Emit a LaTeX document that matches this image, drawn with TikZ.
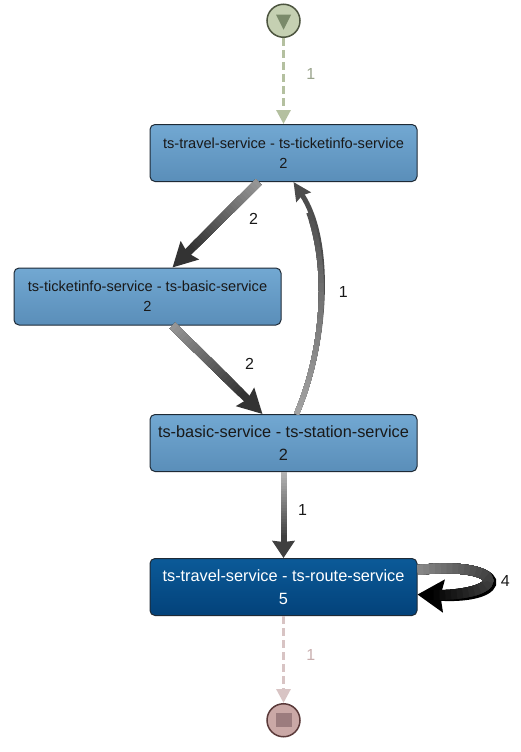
\documentclass[tikz,border=0pt]{standalone}
\usepackage{fontspec}
\setmainfont{Liberation Sans}
\usepackage{xcolor}
\definecolor{cBoxTop}  {HTML}{72A8D2}
\definecolor{cBoxBot}  {HTML}{5A8EB9}
\definecolor{cHotTop}  {HTML}{0B5A98}
\definecolor{cHotBot}  {HTML}{03427A}
\definecolor{cFrame}   {HTML}{1E2A36}
\definecolor{cStartFill}{HTML}{C5D0B2}
\definecolor{cStartLine}{HTML}{4D5540}
\definecolor{cStartMark}{HTML}{7A8A6A}
\definecolor{cStartArr} {HTML}{B4C0A0}
\definecolor{cStartLbl} {HTML}{9AA48C}
\definecolor{cEndFill}  {HTML}{CAA8A6}
\definecolor{cEndLine}  {HTML}{5A3A3A}
\definecolor{cEndMark}  {HTML}{9C7C7E}
\definecolor{cEndArr}   {HTML}{D8C4C4}
\definecolor{cEndLbl}   {HTML}{C8AEAE}
\usetikzlibrary{arrows.meta, positioning}
\tikzset{
  act/.style   = {rectangle, draw=cFrame, line width=1pt, rounded corners=5pt,
                  minimum width=267pt, minimum height=57pt, align=center,
                  top color=cBoxTop, bottom color=cBoxBot, text=black!90},
  hot/.style   = {act, top color=cHotTop, bottom color=cHotBot, text=white},
  small/.style = {font=\fontsize{14.6}{20}\selectfont},
  large/.style = {font=\fontsize{16.3}{23}\selectfont},
  term/.style  = {circle, draw=#1, line width=1.5pt, minimum size=33pt,
                  inner sep=0pt},
  shaft/.style = {line width=#1},
  lbl/.style   = {font=\fontsize{16}{18}\selectfont, text=black!90},
  flow/.style  = {#1, line width=3pt, dash pattern=on 8pt off 4pt,
                  -{Triangle[length=14pt,width=14pt]}},
}

\begin{document}
\begin{tikzpicture}[x=1pt, y=-1pt]
  \useasboundingbox (0,0) rectangle (520,752);

  \node[act, small] (tvti) at (283.5,153)
        {ts-travel-service - ts-ticketinfo-service\\2};
  \node[act, small] (tibs) at (147.5,296.5)
        {ts-ticketinfo-service - ts-basic-service\\2};
  \node[act, large, below=232pt of tvti] (bsst)
        {ts-basic-service - ts-station-service\\2};
  \node[hot, large, below=86pt of bsst] (tvrt)
        {ts-travel-service - ts-route-service\\5};

  %% start / end markers
  \node[term=cStartLine, fill=cStartFill, above=86pt of tvti] (start) {};
  \node[term=cEndLine, fill=cEndFill, below=87pt of tvrt] (finish) {};
  \fill[cStartMark] ([shift={(-7.5,-6)}]start.center) -- ++(15,0)
        -- ++(-7.5,15) -- cycle;
  \fill[cEndMark] ([shift={(-8,-7)}]finish.center) rectangle ++(16,14);

  \draw[flow=cStartArr] (start) -- (tvti)
        node[pos=0.42, right=18pt, lbl, text=cStartLbl] {1};
  \draw[flow=cEndArr] (tvrt) -- (finish)
        node[pos=0.45, right=18pt, lbl, text=cEndLbl] {1};

  %% tvti -> tibs
  \draw[shaft=8pt, black!80, -{Stealth[length=24pt,width=25pt,inset=3pt]}]
        ([xshift=-25pt]tvti.south) -- ([xshift=25pt]tibs.north)
        node[midway, xshift=38pt, yshift=6pt, lbl] {2};
  \foreach \j in {23,22,...,1} {
    \pgfmathsetmacro\gshade{40+40*\j/24}
    \pgfmathsetlengthmacro\glen{96pt*\j/24}
    \draw[shaft=8pt, black!\gshade, dash pattern=on \glen off 2000pt]
          ([xshift=-25pt]tvti.south) -- ([xshift=25pt]tibs.north);
  }

  %% tibs -> bsst
  \draw[shaft=8pt, black!80, -{Stealth[length=24pt,width=25pt,inset=3pt]}]
        ([xshift=25pt]tibs.south) -- ([xshift=-21pt]bsst.north)
        node[midway, xshift=32pt, yshift=6pt, lbl] {2};
  \foreach \j in {23,22,...,1} {
    \pgfmathsetmacro\gshade{40+40*\j/24}
    \pgfmathsetlengthmacro\glen{100pt*\j/24}
    \draw[shaft=8pt, black!\gshade, dash pattern=on \glen off 2000pt]
          ([xshift=25pt]tibs.south) -- ([xshift=-21pt]bsst.north);
  }

  %% bsst -> tvti (back edge)
  \draw[shaft=5pt, black!70, -{Stealth[length=18pt,width=17pt,inset=2pt]}]
        ([xshift=13pt]bsst.north) .. controls (328,340) and (332,240)
        .. ([xshift=10pt]tvti.south)
        node[pos=0.5, xshift=22pt, lbl] {1};
  \foreach \j in {23,22,...,1} {
    \pgfmathsetmacro\gshade{35+35*\j/24}
    \pgfmathsetlengthmacro\glen{215pt*\j/24}
    \draw[shaft=5pt, black!\gshade, dash pattern=on \glen off 2000pt]
          ([xshift=13pt]bsst.north) .. controls (328,340) and (332,240)
          .. ([xshift=10pt]tvti.south);
  }

  %% bsst -> tvrt
  \draw[shaft=6pt, black!75, -{Stealth[length=17pt,width=22pt,inset=1pt]}]
        (bsst) -- (tvrt)
        node[midway, xshift=19pt, yshift=5pt, lbl] {1};
  \foreach \j in {23,22,...,1} {
    \pgfmathsetmacro\gshade{28+47*\j/24}
    \pgfmathsetlengthmacro\glen{66pt*\j/24}
    \draw[shaft=6pt, black!\gshade, dash pattern=on \glen off 2000pt]
          (bsst) -- (tvrt);
  }

  %% tvrt self loop
  \draw[shaft=10pt, black, -{Stealth[length=26pt,width=32pt,inset=3pt]}]
        ([yshift=17pt]tvrt.east) .. controls (512,560) and (512,600)
        .. ([yshift=-7.5pt]tvrt.east)
        node[pos=0.5, xshift=17pt, lbl] {4};
  \foreach \j in {23,22,...,1} {
    \pgfmathsetmacro\gshade{45+55*\j/24}
    \pgfmathsetlengthmacro\glen{140pt*\j/24}
    \draw[shaft=10pt, black!\gshade, dash pattern=on \glen off 2000pt]
          ([yshift=17pt]tvrt.east) .. controls (512,560) and (512,600)
          .. ([yshift=-7.5pt]tvrt.east);
  }

\end{tikzpicture}
\end{document}
